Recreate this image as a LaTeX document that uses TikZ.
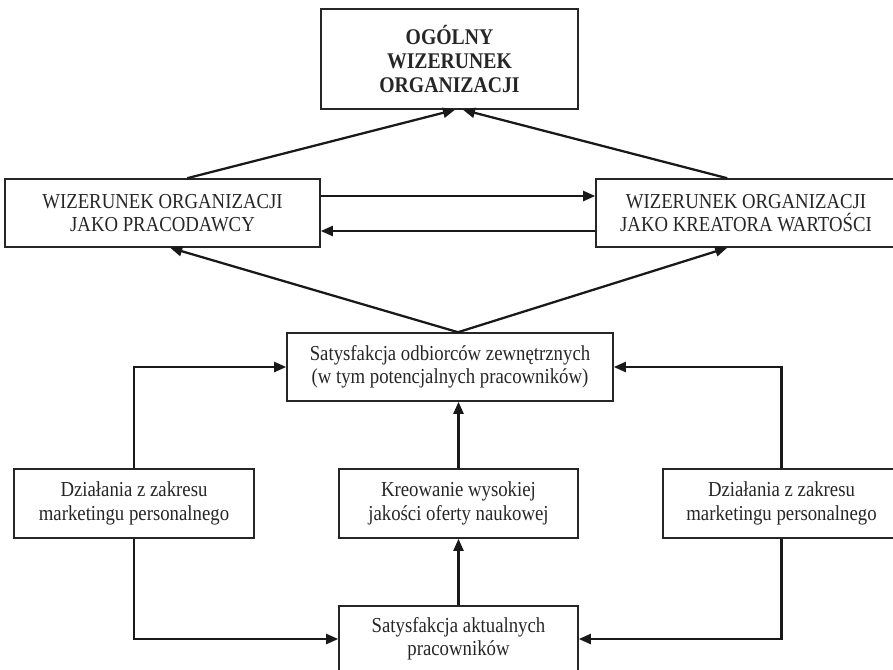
\documentclass[tikz,border=0pt]{standalone}
\usepackage{fontspec}
\setmainfont{Liberation Serif}[FakeStretch=0.88]
\usetikzlibrary{arrows.meta}
\begin{document}
\begin{tikzpicture}[x=0.75pt,y=-0.75pt,
  box/.style={draw=black!85,line width=1.2pt,inner sep=0pt,align=center,
    font=\fontsize{16}{17.5}\selectfont,text=black!85},
  arr/.style={line width=1.7pt,draw=black!90,-{Triangle[length=9pt,width=7.5pt]}},
  ln/.style={line width=1.7pt,draw=black!90}]
\useasboundingbox (0,0) rectangle (893,669);
\node[box,minimum width=192.75pt,minimum height=75pt,font=\bfseries\fontsize{16.8}{18}\selectfont] (T) at (449.5,59) {OGÓLNY\\WIZERUNEK\\ORGANIZACJI};
\node[box,minimum width=236.25pt,minimum height=51pt] (L) at (162.5,213) {WIZERUNEK ORGANIZACJI\\JAKO PRACODAWCY};
\node[box,minimum width=225pt,minimum height=51pt] (R) at (746,213) {WIZERUNEK ORGANIZACJI\\JAKO KREATORA WARTOŚCI};
\node[box,minimum width=244.5pt,minimum height=51pt] (S) at (450,367) {Satysfakcja odbiorców zewnętrznych\\(w tym potencjalnych pracowników)};
\node[box,minimum width=180pt,minimum height=51.75pt] (DL) at (134,503.5) {Działania z zakresu\\marketingu personalnego};
\node[box,minimum width=179.25pt,minimum height=51.75pt] (K) at (458.5,503.5) {Kreowanie wysokiej\\jakości oferty naukowej};
\node[box,minimum width=177.75pt,minimum height=51.75pt] (DR) at (781.5,503.5) {Działania z zakresu\\marketingu personalnego};
\node[box,minimum width=179.25pt,minimum height=49.5pt] (B) at (458.5,639) {Satysfakcja aktualnych\\pracowników};
% top diagonals
\draw[arr] ([xshift=137.25pt]L.north west) -- ([xshift=4.1pt]T.south);
\draw[arr] ([xshift=99pt]R.north west) -- ([xshift=10.1pt]T.south);
% horizontal pair
\draw[arr] ([yshift=12.75pt]L.east) -- ([yshift=12.75pt]R.west);
\draw[arr] ([yshift=-13.5pt]R.west) -- ([yshift=-13.5pt]L.east);
% lower diagonals
\draw[arr] ([xshift=6pt]S.north) -- ([xshift=124.5pt]L.south west);
\draw[arr] ([xshift=6pt]S.north) -- ([xshift=99pt]R.south west);
% verticals
\draw[arr] (K.north) -- (K.north |- S.south);
\draw[arr] (B.north) -- (B.north |- K.south);
% side loops
\draw[arr] (DL.north) |- (S.west);
\draw[arr] (DR.north) |- (S.east);
\draw[arr] (DL.south) |- (B.west);
\draw[arr] (DR.south) |- (B.east);
\end{tikzpicture}
\end{document}
